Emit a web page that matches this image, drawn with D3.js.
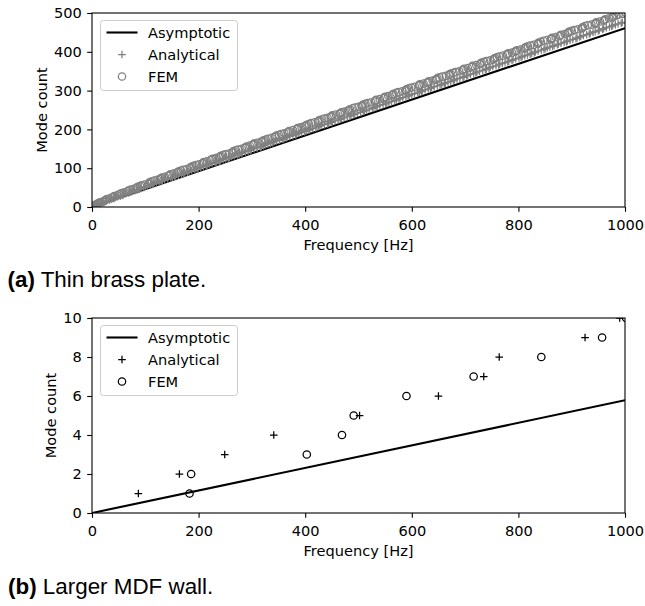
<!DOCTYPE html>
<html>
<head>
<meta charset="utf-8">
<script src="https://cdn.jsdelivr.net/npm/d3@7"></script>
<style>
  body { margin: 0; background: #fff; }
  svg text { font-family: "DejaVu Sans", sans-serif; }
  svg text.caption { font-family: "Liberation Sans", Arial, sans-serif; }
</style>
</head>
<body>
<svg width="645" height="606"></svg>
<script>
// ---- data -------------------------------------------------------------
const freqTicks = [0, 200, 400, 600, 800, 1000];
const plateCountTicks = [0, 100, 200, 300, 400, 500];
const wallCountTicks = [0, 2, 4, 6, 8, 10];
const seriesNames = ["Asymptotic", "Analytical", "FEM"];

// (a) thin brass plate: mode count (every 2nd mode) and the frequency it is reached at
const plateModes = [2, 4, 6, 8, 10, 12, 14, 16, 18, 20, 22, 24, 26, 28, 30, 32, 34, 36, 38, 40,
  42, 44, 46, 48, 50, 52, 54, 56, 58, 60, 62, 64, 66, 68, 70, 72, 74, 76, 78, 80,
  82, 84, 86, 88, 90, 92, 94, 96, 98, 100, 102, 104, 106, 108, 110, 112, 114, 116, 118, 120,
  122, 124, 126, 128, 130, 132, 134, 136, 138, 140, 142, 144, 146, 148, 150, 152, 154, 156, 158, 160,
  162, 164, 166, 168, 170, 172, 174, 176, 178, 180, 182, 184, 186, 188, 190, 192, 194, 196, 198, 200,
  202, 204, 206, 208, 210, 212, 214, 216, 218, 220, 222, 224, 226, 228, 230, 232, 234, 236, 238, 240,
  242, 244, 246, 248, 250, 252, 254, 256, 258, 260, 262, 264, 266, 268, 270, 272, 274, 276, 278, 280,
  282, 284, 286, 288, 290, 292, 294, 296, 298, 300, 302, 304, 306, 308, 310, 312, 314, 316, 318, 320,
  322, 324, 326, 328, 330, 332, 334, 336, 338, 340, 342, 344, 346, 348, 350, 352, 354, 356, 358, 360,
  362, 364, 366, 368, 370, 372, 374, 376, 378, 380, 382, 384, 386, 388, 390, 392, 394, 396, 398, 400,
  402, 404, 406, 408, 410, 412, 414, 416, 418, 420, 422, 424, 426, 428, 430, 432, 434, 436, 438, 440,
  442, 444, 446, 448, 450, 452, 454, 456, 458, 460, 462, 464, 466, 468, 470, 472, 474, 476, 478, 480,
  482, 484, 486, 488, 490, 492, 494, 496, 498, 500];
const plateFemHz = [2, 4, 7, 10, 12, 15, 20, 24, 25, 27, 32, 37, 40, 42, 47, 51, 53, 56, 61, 66,
  68, 71, 77, 82, 84, 86, 90, 93, 99, 106, 107, 109, 113, 117, 123, 128, 129, 131, 137, 143,
  145, 147, 153, 159, 161, 163, 167, 171, 178, 184, 185, 187, 191, 195, 201, 207, 208, 210, 216, 222,
  224, 226, 232, 238, 240, 242, 246, 250, 257, 263, 264, 266, 270, 274, 281, 287, 288, 290, 296, 302,
  303, 305, 312, 318, 320, 322, 326, 330, 337, 343, 344, 346, 351, 355, 361, 367, 368, 370, 377, 384,
  385, 387, 393, 399, 401, 403, 407, 411, 418, 424, 425, 427, 432, 436, 442, 448, 449, 451, 458, 465,
  466, 468, 474, 480, 482, 484, 489, 493, 500, 506, 507, 509, 513, 517, 524, 531, 532, 533, 540, 547,
  548, 550, 556, 563, 564, 566, 571, 575, 582, 588, 589, 591, 595, 599, 606, 613, 614, 615, 622, 629,
  630, 632, 639, 645, 646, 648, 652, 657, 664, 670, 671, 673, 678, 682, 689, 695, 696, 698, 705, 712,
  713, 714, 721, 728, 729, 731, 736, 740, 747, 753, 754, 756, 760, 764, 771, 778, 779, 781, 788, 794,
  795, 797, 804, 811, 812, 814, 818, 822, 829, 836, 837, 838, 842, 847, 854, 861, 862, 863, 870, 877,
  878, 880, 887, 893, 894, 896, 900, 905, 912, 919, 920, 921, 925, 930, 937, 944, 945, 946, 953, 960,
  961, 963, 970, 976, 977, 979, 984, 988, 995, 1002];
const plateAnaHz = [3, 6, 10, 12, 16, 22, 25, 27, 33, 37, 41, 43, 47, 53, 57, 59, 63, 69, 73, 75,
  80, 85, 89, 92, 97, 100, 104, 110, 114, 116, 121, 126, 130, 132, 136, 142, 148, 151, 155, 157,
  162, 168, 172, 174, 179, 182, 187, 193, 197, 199, 204, 209, 214, 216, 220, 225, 231, 234, 239, 241,
  246, 251, 256, 258, 262, 267, 273, 276, 280, 282, 288, 293, 297, 299, 304, 310, 316, 318, 322, 325,
  330, 335, 339, 341, 346, 352, 358, 360, 364, 366, 371, 377, 382, 384, 388, 393, 399, 402, 407, 409,
  414, 420, 424, 426, 430, 436, 442, 444, 449, 451, 456, 462, 466, 468, 473, 479, 484, 486, 491, 493,
  498, 504, 509, 511, 515, 520, 526, 529, 533, 535, 540, 546, 551, 553, 557, 562, 568, 571, 576, 578,
  583, 589, 593, 595, 600, 605, 611, 614, 618, 620, 625, 631, 635, 637, 642, 648, 653, 656, 661, 663,
  668, 673, 678, 680, 685, 690, 696, 698, 703, 705, 710, 716, 720, 722, 727, 733, 738, 740, 745, 747,
  752, 758, 763, 765, 770, 775, 780, 782, 788, 790, 795, 801, 805, 807, 812, 817, 822, 825, 830, 832,
  837, 843, 848, 850, 854, 859, 864, 867, 873, 875, 880, 886, 890, 892, 897, 902, 908, 910, 915, 917,
  922, 928, 933, 935, 940, 944, 950, 952, 958, 960, 965, 971, 975, 977, 982, 987, 993, 995];
const plateAsymHz = [0, 1000];
const plateAsymCount = [0, 461];

// (b) larger MDF wall
const wallModes = [1, 2, 3, 4, 5, 6, 7, 8, 9, 10];
const wallAnaHz = [87, 164, 249, 341, 502, 650, 735, 764, 925, 990];
const wallFemHz = [183, 186, 403, 469, 491, 590, 716, 843, 957, 1002];
const wallAsymHz = [0, 1000];
const wallAsymCount = [0, 5.78];

// ---- drawing ----------------------------------------------------------
const svg = d3.select("svg");
const left = 92, right = 625;
const fontSize = "14.6px";
const markerWidth = 1.25;

const plusPath = "M-3.8,0H3.8M0,-3.8V3.8";

function panel(o) {
  const x = d3.scaleLinear().domain([0, 1000]).range([left, right]);
  const y = d3.scaleLinear().domain([0, o.yMax]).range([o.bottom, o.top]);

  svg.append("clipPath").attr("id", "clip-" + o.id)
    .append("rect")
    .attr("x", left).attr("y", o.top)
    .attr("width", right - left).attr("height", o.bottom - o.top);

  const plot = svg.append("g").attr("clip-path", "url(#clip-" + o.id + ")");

  plot.append("path")
    .datum(d3.zip(o.asymHz, o.asymCount))
    .attr("fill", "none")
    .attr("stroke", "#000")
    .attr("stroke-width", 2.1)
    .attr("d", d3.line().x(d => x(d[0])).y(d => y(d[1])));

  plot.append("g").selectAll("path")
    .data(d3.zip(o.anaHz, o.modes))
    .join("path")
    .attr("transform", d => `translate(${x(d[0])},${y(d[1])})`)
    .attr("d", plusPath)
    .attr("stroke", o.color)
    .attr("stroke-width", markerWidth)
    .attr("fill", "none");

  plot.append("g").selectAll("circle")
    .data(d3.zip(o.femHz, o.modes))
    .join("circle")
    .attr("cx", d => x(d[0]))
    .attr("cy", d => y(d[1]))
    .attr("r", 3.7)
    .attr("stroke", o.color)
    .attr("stroke-width", markerWidth)
    .attr("fill", "none");

  // axes
  const xa = svg.append("g")
    .attr("transform", `translate(0,${o.bottom})`)
    .call(d3.axisBottom(x).tickValues(freqTicks).tickSize(4.8).tickPadding(7.5).tickFormat(d3.format("d")));
  const ya = svg.append("g")
    .attr("transform", `translate(${left},0)`)
    .call(d3.axisLeft(y).tickValues(o.yTicks).tickSize(4.8).tickPadding(5.3).tickFormat(d3.format("d")));
  [xa, ya].forEach(a => {
    a.attr("font-size", null).attr("font-family", null);
    a.select(".domain").remove();
    a.selectAll("text").style("font-size", fontSize).attr("fill", "#000");
    a.selectAll("line").attr("stroke", "#000").attr("stroke-width", 1.1);
  });

  // frame
  svg.append("rect")
    .attr("x", left).attr("y", o.top)
    .attr("width", right - left).attr("height", o.bottom - o.top)
    .attr("fill", "none").attr("stroke", "#000").attr("stroke-width", 1.1);

  svg.append("text")
    .attr("x", (left + right) / 2).attr("y", o.bottom + 42.5)
    .attr("text-anchor", "middle")
    .style("font-size", fontSize)
    .text("Frequency [Hz]");

  svg.append("text")
    .attr("transform", `translate(${o.ylabelX},${(o.top + o.bottom) / 2}) rotate(-90)`)
    .attr("text-anchor", "middle")
    .style("font-size", fontSize)
    .text("Mode count");

  // legend
  const lg = svg.append("g").attr("transform", `translate(100.5,${o.top + 7.5})`);
  lg.append("rect")
    .attr("width", 137).attr("height", 70).attr("rx", 3)
    .attr("fill", "#fff").attr("fill-opacity", 0.8)
    .attr("stroke", "#cccccc").attr("stroke-width", 1);
  const rowY = i => 12 + i * 22;
  lg.append("line")
    .attr("x1", 6).attr("x2", 37).attr("y1", rowY(0)).attr("y2", rowY(0))
    .attr("stroke", "#000").attr("stroke-width", 2.1);
  lg.append("path")
    .attr("transform", `translate(21.5,${rowY(1)})`)
    .attr("d", plusPath).attr("stroke", o.color).attr("stroke-width", markerWidth);
  lg.append("circle")
    .attr("cx", 21.5).attr("cy", rowY(2)).attr("r", 3.7)
    .attr("fill", "none").attr("stroke", o.color).attr("stroke-width", markerWidth);
  lg.selectAll("text.lab").data(seriesNames).join("text")
    .attr("class", "lab")
    .attr("x", 47.5).attr("y", (d, i) => rowY(i))
    .attr("dy", "0.36em")
    .style("font-size", fontSize)
    .text(d => d);

  // caption
  const cap = svg.append("text")
    .attr("class", "caption")
    .attr("x", o.capX).attr("y", o.capY)
    .style("font-size", "22.4px");
  cap.append("tspan").attr("font-weight", "bold").text(o.capTag);
  cap.append("tspan").text(" " + o.capText);
}

panel({
  id: "a", top: 13, bottom: 207, yMax: 500, yTicks: plateCountTicks,
  modes: plateModes, femHz: plateFemHz, anaHz: plateAnaHz,
  asymHz: plateAsymHz, asymCount: plateAsymCount,
  color: "#808080", ylabelX: 46.5,
  capX: 7.5, capY: 286.5, capTag: "(a)", capText: "Thin brass plate."
});

panel({
  id: "b", top: 318, bottom: 513, yMax: 10, yTicks: wallCountTicks,
  modes: wallModes, femHz: wallFemHz, anaHz: wallAnaHz,
  asymHz: wallAsymHz, asymCount: wallAsymCount,
  color: "#000", ylabelX: 56,
  capX: 8, capY: 594.3, capTag: "(b)", capText: "Larger MDF wall."
});
</script>
</body>
</html>
